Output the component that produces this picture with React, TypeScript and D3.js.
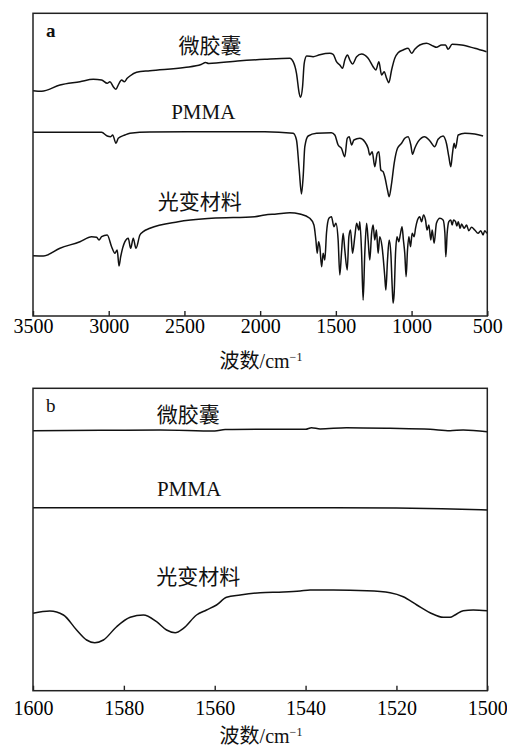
import React, { useEffect, useRef } from 'react';
import * as d3 from 'd3';

// panel a: [wavenumber, transmittance (a.u.)]
const capsuleA: [number, number][] = [
  [3500, 225.3], [3443, 224.7], [3322, 231], [3190, 234.3], [3102, 236.7], [3047, 236],
  [3010, 232.7], [2992, 234.3], [2970, 229.3], [2952, 226.7], [2937, 231], [2915, 236],
  [2897, 234.3], [2878, 237.7], [2860, 240], [2816, 243.7], [2728, 245.3], [2500, 248.5],
  [2390, 251.5], [2360, 253.5], [2340, 252.5], [2150, 255], [1969, 256.7], [1804, 257.7],
  [1782, 254.3], [1760, 242.7], [1742, 222.7], [1733, 218.7], [1720, 229.3], [1709, 252.7],
  [1693, 260], [1650, 259.3], [1606, 261.3], [1540, 262.7], [1518, 261.7], [1496, 254.3],
  [1474, 251], [1456, 247.7], [1441, 256], [1423, 261], [1408, 256], [1390, 252],
  [1363, 259.3], [1330, 262], [1287, 257.7], [1254, 249.3], [1236, 246], [1216, 254.3],
  [1198, 241], [1181, 244.3], [1165, 237.7], [1150, 233.3], [1132, 246], [1111, 257.7],
  [1089, 263.3], [1056, 266], [1023, 267.7], [1000, 262.7], [979, 266.7], [946, 271],
  [902, 272.7], [858, 270], [836, 268.7], [802, 271], [776, 271], [759, 266.7],
  [732, 271.7], [670, 271], [583, 267.7], [505, 264.3],
];

const pmmaA: [number, number][] = [
  [3500, 183.7], [3047, 183.7], [3010, 180], [2987, 179.3], [2974, 181], [2952, 172.7],
  [2937, 177.7], [2893, 181], [2860, 182.7], [2728, 184], [1969, 184.3], [1782, 182.7],
  [1760, 176], [1742, 146], [1727, 122], [1716, 139.3], [1705, 169.3], [1683, 180],
  [1628, 182.7], [1529, 183.3], [1507, 181], [1485, 171], [1463, 167.7], [1441, 159.3],
  [1425, 177.7], [1412, 179.3], [1396, 171], [1381, 176], [1342, 177.7], [1309, 174.3],
  [1287, 167.7], [1276, 161], [1260, 164.3], [1243, 149.3], [1227, 162.7], [1216, 164.3],
  [1203, 146], [1188, 144.3], [1177, 139.3], [1159, 126], [1148, 119.3], [1132, 132.7],
  [1115, 152.7], [1093, 167.7], [1066, 172.7], [1045, 177.7], [1023, 179.3], [1005, 171],
  [994, 161.7], [979, 167.7], [957, 174.3], [913, 179.3], [880, 175.3], [847, 169.3],
  [825, 176.7], [792, 180], [770, 172.7], [754, 159.3], [741, 149.3], [730, 162.7],
  [719, 172.7], [710, 167.7], [692, 181], [648, 182.7], [583, 182], [528, 180],
];

const photoA: [number, number][] = [
  [3500, 60.3], [3432, 60], [3322, 67.7], [3190, 74.3], [3113, 79.3], [3080, 78.7],
  [3064, 76], [3047, 79.3], [3010, 81], [2981, 69.3], [2959, 62.7], [2944, 66],
  [2932, 50], [2921, 59.3], [2893, 74.3], [2871, 77.7], [2855, 67.7], [2838, 77.7],
  [2820, 67.7], [2794, 81], [2772, 84.3], [2728, 87.7], [2541, 94.3], [2321, 97.7],
  [2035, 99.3], [1969, 101], [1892, 102], [1804, 103.3], [1738, 102], [1672, 97.7],
  [1645, 91], [1632, 76], [1623, 62.7], [1614, 74.3], [1606, 69.3], [1594, 49.3],
  [1584, 62.7], [1573, 56], [1562, 82.7], [1546, 97.7], [1529, 99.3], [1513, 89.3],
  [1500, 92.7], [1485, 76], [1474, 41], [1463, 62.7], [1452, 82.7], [1441, 66],
  [1425, 46], [1414, 79.3], [1403, 86], [1390, 62.7], [1375, 79.3], [1363, 92.7],
  [1348, 86], [1342, 94.3], [1330, 62.7], [1320, 16], [1309, 62.7], [1297, 92.7],
  [1287, 76], [1276, 56], [1264, 82.7], [1254, 91], [1243, 76], [1232, 86],
  [1221, 62.7], [1210, 79.3], [1195, 69.3], [1177, 39.3], [1170, 26], [1159, 56],
  [1148, 76], [1137, 62.7], [1128, 29.3], [1122, 12.7], [1115, 22.7], [1106, 62.7],
  [1096, 79.3], [1085, 74.3], [1073, 82.7], [1063, 89.3], [1054, 76], [1045, 62.7],
  [1036, 39.3], [1027, 66], [1018, 79.3], [1007, 69.3], [996, 82.7], [983, 79.3],
  [974, 87.7], [961, 96], [946, 99.3], [934, 94.3], [921, 101], [908, 96],
  [898, 86], [886, 91], [873, 76], [864, 86], [851, 72.7], [836, 92.7],
  [813, 97.7], [792, 96], [780, 82.7], [774, 59.3], [765, 82.7], [754, 94.3],
  [741, 96], [732, 91], [723, 96], [710, 94.3], [701, 90], [692, 94.3],
  [679, 87.7], [670, 92], [653, 87.7], [637, 91], [622, 85.3], [604, 88.7],
  [583, 86], [561, 82.7], [543, 85.3], [528, 81], [517, 85.3], [503, 82.7],
];

// panel b
const capsuleB: [number, number][] = [
  [1600, 260], [1585, 260.4], [1572, 260.7], [1560, 259.7], [1557.7, 261.2], [1550, 261.4],
  [1540, 261.4], [1538.7, 263], [1536.8, 261.7], [1531, 263], [1521.4, 262.4], [1512.6, 261.4],
  [1508.2, 260], [1505.3, 260.7], [1500, 259],
];

const pmmaB: [number, number][] = [
  [1600, 183], [1580, 183], [1560, 183], [1540, 183], [1520, 182.6], [1510, 182], [1500, 180.7],
];

const photoB: [number, number][] = [
  [1600, 77.4], [1596.3, 79.7], [1593.3, 75.7], [1590.4, 60.7], [1588.2, 50.7], [1586.4, 48],
  [1584.5, 50.7], [1581.6, 64], [1578.6, 73.4], [1575.7, 75.7], [1572.8, 69], [1570.6, 60.7],
  [1568.7, 58], [1566.9, 62.4], [1564, 75.7], [1561.8, 80.7], [1559.6, 85.7], [1557.4, 93.4],
  [1554.4, 95.7], [1550, 98], [1544.9, 98.7], [1541.2, 99.7], [1539, 100.7], [1533.9, 100.7],
  [1526.5, 100], [1521.4, 98], [1518.5, 94], [1515.5, 85.7], [1512.6, 78], [1509.7, 73.4],
  [1508.2, 73.4], [1507.1, 75.7], [1505.3, 80], [1503.1, 80.7], [1500, 80],
];

const ticksA = [3500, 3000, 2500, 2000, 1500, 1000, 500];
const ticksB = [1600, 1580, 1560, 1540, 1520, 1500];
const seriesNames = ['微胶囊', 'PMMA', '光变材料'];
const axisTitle = '波数/cm';

const FONT = '"Liberation Serif", "Times New Roman", "Noto Sans CJK SC", serif';

const App = () => {
  const svgRef = useRef<SVGSVGElement | null>(null);

  useEffect(() => {
    document.body.style.margin = '0';
    const svg = d3.select(svgRef.current);
    svg.selectAll('*').remove();

    const left = 33, right = 487.3;

    const panels = [
      {
        letter: 'a', bold: true, top: 13.3, bottom: 316, xDomain: [3500, 500], yMax: 302.7,
        ticks: ticksA, pad: 3, titleY: 368,
        series: [capsuleA, pmmaA, photoA],
        labels: [
          { x: 210, y: 53.3 }, { x: 203.3, y: 119.3 }, { x: 199.7, y: 208.5 },
        ],
      },
      {
        letter: 'b', bold: false, top: 388.3, bottom: 690.7, xDomain: [1600, 1500], yMax: 302.4,
        ticks: ticksB, pad: 10, titleY: 743,
        series: [capsuleB, pmmaB, photoB],
        labels: [
          { x: 188.3, y: 421.7 }, { x: 189, y: 496 }, { x: 198.3, y: 583.5 },
        ],
      },
    ];

    panels.forEach(p => {
      const x = d3.scaleLinear().domain(p.xDomain).range([left, right]);
      const y = d3.scaleLinear().domain([0, p.yMax]).range([p.bottom, p.top]);

      const line = d3.line<[number, number]>()
        .x(d => x(d[0]))
        .y(d => y(d[1]))
        .curve(d3.curveMonotoneX);

      p.series.forEach(s => {
        svg.append('path')
          .datum(s)
          .attr('fill', 'none')
          .attr('stroke', '#111')
          .attr('stroke-width', 1.5)
          .attr('stroke-linejoin', 'round')
          .attr('d', line);
      });

      // frame
      svg.append('rect')
        .attr('x', left).attr('y', p.top)
        .attr('width', right - left).attr('height', p.bottom - p.top)
        .attr('fill', 'none').attr('stroke', '#222').attr('stroke-width', 1.5);

      const axis = d3.axisBottom(x)
        .tickValues(p.ticks)
        .tickFormat(d3.format('d'))
        .tickSizeInner(-5)
        .tickSizeOuter(0)
        .tickPadding(p.pad);

      const g = svg.append('g')
        .attr('transform', `translate(0,${p.bottom})`)
        .call(axis);
      g.select('.domain').remove();
      g.selectAll('line').attr('stroke', '#222').attr('stroke-width', 1.4);
      g.selectAll('text')
        .attr('fill', '#000')
        .style('font-family', FONT)
        .style('font-size', '20px');

      svg.append('text')
        .attr('x', 46).attr('y', p.top + 24)
        .attr('fill', '#111')
        .style('font-family', FONT)
        .style('font-size', '19px')
        .style('font-weight', p.bold ? 'bold' : 'normal')
        .text(p.letter);

      p.labels.forEach((l, i) => {
        svg.append('text')
          .attr('x', l.x).attr('y', l.y)
          .attr('text-anchor', 'middle')
          .attr('fill', '#111')
          .style('font-family', FONT)
          .style('font-size', '21px')
          .text(seriesNames[i]);
      });

      const t = svg.append('text')
        .attr('x', 261).attr('y', p.titleY)
        .attr('text-anchor', 'middle')
        .attr('fill', '#111')
        .style('font-family', FONT)
        .style('font-size', '20px');
      t.append('tspan').text(axisTitle);
      t.append('tspan')
        .attr('dy', -7)
        .style('font-size', '12px')
        .text('−1');
    });
  }, []);

  return (
    <svg ref={svgRef} width={507} height={747} style={{ display: 'block', background: '#fff' }}></svg>
  );
};

export default App;
